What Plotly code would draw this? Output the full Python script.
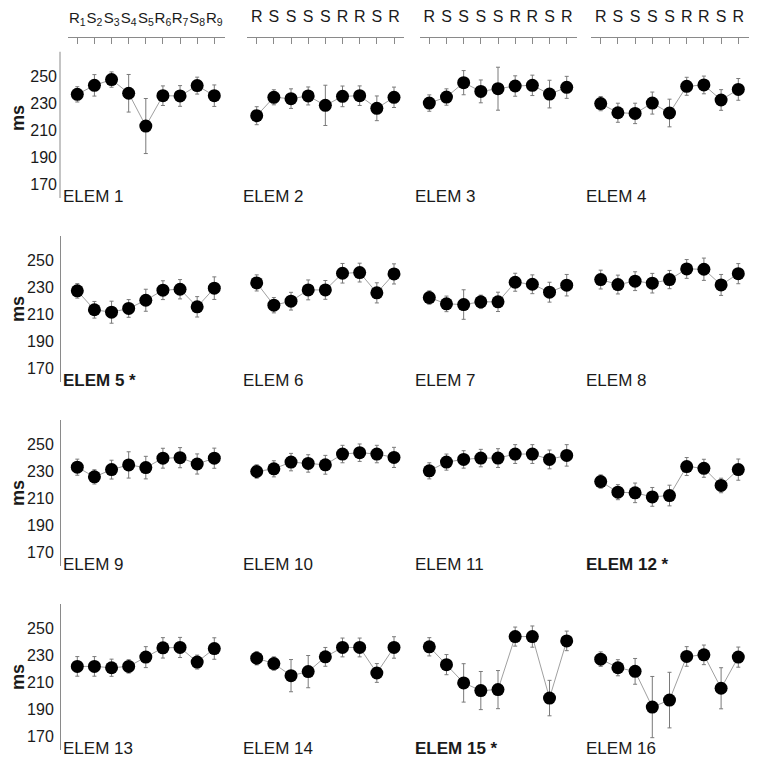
import plotly.graph_objects as go

# page body has an 8px margin; figure sized to fit the 764x765 window
OFF = 8
W, H = 764 - 2 * OFF, 765 - 2 * OFF

positions = [1, 2, 3, 4, 5, 6, 7, 8, 9]
first_labels = ["R<sub>1</sub>", "S<sub>2</sub>", "S<sub>3</sub>", "S<sub>4</sub>", "S<sub>5</sub>",
                "R<sub>6</sub>", "R<sub>7</sub>", "S<sub>8</sub>", "R<sub>9</sub>"]
plain_labels = ["R", "S", "S", "S", "S", "R", "R", "S", "R"]
y_ticks = [170, 190, 210, 230, 250]

elem1 = [236.8, 243.5, 247.8, 237.6, 213.2, 235.8, 235.6, 243.3, 235.8]
elem1_se = [5.7, 8.0, 5.7, 14.0, 20.5, 7.3, 7.7, 6.3, 8.0]
elem2 = [220.9, 234.6, 233.6, 235.6, 228.6, 235.3, 235.8, 226.4, 234.6]
elem2_se = [6.7, 5.6, 7.3, 6.7, 15.0, 7.7, 7.3, 9.2, 7.6]
elem3 = [230.3, 234.8, 245.5, 239.0, 241.0, 243.0, 243.5, 237.0, 242.0]
elem3_se = [6.1, 6.1, 9.0, 8.5, 16.0, 7.6, 7.6, 10.3, 8.2]
elem4 = [229.9, 223.1, 222.6, 230.3, 222.9, 242.8, 243.8, 232.6, 240.5]
elem4_se = [5.3, 7.1, 7.6, 8.2, 10.3, 6.7, 6.6, 7.7, 8.1]
elem5 = [227.5, 213.4, 211.6, 214.4, 220.5, 228.0, 228.7, 215.6, 229.5]
elem5_se = [5.4, 6.2, 8.2, 6.6, 8.2, 7.0, 7.2, 7.6, 8.4]
elem6 = [233.4, 216.8, 219.8, 228.2, 228.2, 240.6, 241.1, 226.0, 240.1]
elem6_se = [6.0, 5.7, 6.6, 7.4, 7.0, 7.3, 7.0, 7.5, 7.5]
elem7 = [222.5, 217.8, 217.3, 219.3, 219.3, 233.9, 232.4, 226.5, 231.7]
elem7_se = [5.0, 5.8, 11.0, 5.0, 7.2, 6.7, 7.0, 7.4, 8.0]
elem8 = [235.9, 232.2, 234.7, 233.2, 235.9, 243.8, 243.6, 231.9, 240.3]
elem8_se = [7.0, 7.0, 7.0, 7.3, 6.8, 7.0, 8.3, 7.8, 7.5]
elem9 = [233.2, 226.0, 231.4, 234.9, 232.9, 239.9, 240.3, 235.6, 239.9]
elem9_se = [6.0, 5.3, 7.0, 9.8, 8.4, 7.4, 7.5, 7.5, 7.5]
elem10 = [230.0, 232.0, 237.0, 236.0, 235.0, 243.0, 244.0, 243.0, 240.5]
elem10_se = [5.0, 6.0, 6.5, 6.5, 7.0, 6.5, 6.5, 6.5, 7.5]
elem11 = [230.5, 237.0, 239.0, 240.0, 240.0, 243.0, 243.0, 239.0, 242.0]
elem11_se = [6.0, 6.0, 6.5, 6.5, 7.0, 7.0, 7.0, 7.0, 8.0]
elem12 = [222.5, 214.6, 214.1, 211.1, 212.1, 233.7, 232.4, 219.6, 231.4]
elem12_se = [5.0, 5.6, 7.3, 7.0, 7.7, 6.7, 6.7, 5.4, 7.9]
elem13 = [221.9, 221.9, 220.9, 221.9, 228.8, 235.7, 236.0, 225.1, 235.2]
elem13_se = [7.3, 7.3, 6.4, 5.0, 7.8, 7.6, 7.5, 5.2, 8.0]
elem14 = [228.0, 224.0, 215.0, 218.0, 229.0, 236.0, 236.0, 217.0, 236.0]
elem14_se = [5.0, 5.0, 12.0, 12.0, 7.0, 7.0, 7.0, 7.0, 8.0]
elem15 = [236.5, 223.2, 209.6, 203.9, 204.6, 244.1, 244.1, 198.3, 240.9]
elem15_se = [6.8, 7.5, 14.3, 14.2, 14.2, 7.1, 7.9, 13.2, 7.3]
elem16 = [227.3, 220.9, 218.2, 191.6, 196.8, 229.3, 230.5, 205.6, 228.8]
elem16_se = [5.4, 6.0, 9.6, 22.8, 20.7, 7.3, 7.3, 15.3, 7.5]

series = [elem1, elem2, elem3, elem4, elem5, elem6, elem7, elem8,
          elem9, elem10, elem11, elem12, elem13, elem14, elem15, elem16]
errors = [elem1_se, elem2_se, elem3_se, elem4_se, elem5_se, elem6_se, elem7_se, elem8_se,
          elem9_se, elem10_se, elem11_se, elem12_se, elem13_se, elem14_se, elem15_se, elem16_se]
titles = ["ELEM 1", "ELEM 2", "ELEM 3", "ELEM 4", "<b>ELEM 5 *</b>", "ELEM 6", "ELEM 7", "ELEM 8",
          "ELEM 9", "ELEM 10", "ELEM 11", "<b>ELEM 12 *</b>", "ELEM 13", "ELEM 14", "<b>ELEM 15 *</b>", "ELEM 16"]

FONT = "Liberation Sans, Arial, sans-serif"
AXC = "#8a8a8a"
TXT = "#1a1a1a"


def xp(px):
    return (px - OFF) / W


def yp(py):
    return 1 - (py - OFF) / H


# layout geometry (window pixels)
col_first = [77.3, 256.7, 429.3, 600.7]
col_last = [214.3, 394.0, 566.7, 738.3]
row_top = [48, 233, 418, 603]
row_h = 147
label_x = [61, 241, 413, 584]
top_axis_y = 34
px_per_ms = 1.35
y_lo, y_hi = 159.6, 268.5

fig = go.Figure()
layout = {}
shapes = []
for i in range(16):
    r, c = divmod(i, 4)
    n = i + 1
    xa = "x" if n == 1 else f"x{n}"
    ya = "y" if n == 1 else f"y{n}"
    fig.add_trace(go.Scatter(
        x=positions, y=series[i], xaxis=xa, yaxis=ya, mode="lines+markers",
        line=dict(color="#a0a0a0", width=1),
        marker=dict(color="black", size=13),
        error_y=dict(type="data", array=errors[i], color="#7a7a7a", thickness=1, width=2),
        showlegend=False, hoverinfo="skip"))

    unit = (col_last[c] - col_first[c]) / 8
    x0 = xp(col_first[c] - 0.55 * unit)
    x1 = xp(col_last[c] + 0.6 * unit)

    if r == 0:
        top_px = top_axis_y
        top_val = y_hi + (row_top[r] - top_axis_y) / px_per_ms
    else:
        top_px = row_top[r]
        top_val = y_hi
    y_top = yp(top_px)
    y_bot = yp(row_top[r] + row_h)

    xkey = "xaxis" if n == 1 else f"xaxis{n}"
    ykey = "yaxis" if n == 1 else f"yaxis{n}"
    xdict = dict(domain=[x0, x1], range=[0.45, 9.6], anchor=ya, fixedrange=True,
                 showgrid=False, zeroline=False)
    if r == 0:
        xdict.update(side="top", showline=True, linecolor=AXC, linewidth=1,
                     ticks="inside", ticklen=6, tickcolor=AXC, tickwidth=1, tickangle=0,
                     tickvals=positions, ticktext=first_labels if c == 0 else plain_labels,
                     tickfont=dict(family=FONT, size=16 if c else 15, color=TXT),
                     ticklabelstandoff=8)
    else:
        xdict.update(visible=False)
    layout[xkey] = xdict

    ydict = dict(domain=[y_bot, y_top], range=[y_lo, top_val], anchor=xa, fixedrange=True,
                 showgrid=False, zeroline=False)
    if c == 0:
        ydict.update(anchor="free", position=xp(60), showline=(r != 0), linecolor=AXC, linewidth=1,
                     ticks="", tickvals=y_ticks, ticktext=[str(v) for v in y_ticks],
                     tickfont=dict(family=FONT, size=16, color=TXT), ticklabelstandoff=3,
                     title=dict(text="<b>ms</b>", font=dict(family=FONT, size=18, color=TXT), standoff=8),
                     automargin=False)
        if r == 0:
            shapes.append(dict(type="line", xref="paper", yref=ya, x0=xp(60), x1=xp(60),
                               y0=y_lo, y1=y_hi, line=dict(color=AXC, width=1)))
    else:
        ydict.update(visible=False)
    layout[ykey] = ydict

annotations = []
for i in range(16):
    r, c = divmod(i, 4)
    annotations.append(dict(
        text=titles[i], xref="paper", yref="paper",
        x=xp(label_x[c]), y=yp(row_top[r] + 145),
        xanchor="left", yanchor="middle", showarrow=False,
        font=dict(family=FONT, size=17, color=TXT)))

fig.update_layout(
    width=W, height=H, margin=dict(l=0, r=0, t=0, b=0),
    paper_bgcolor="white", plot_bgcolor="white",
    annotations=annotations, shapes=shapes, **layout)

fig.write_html("out.html")
